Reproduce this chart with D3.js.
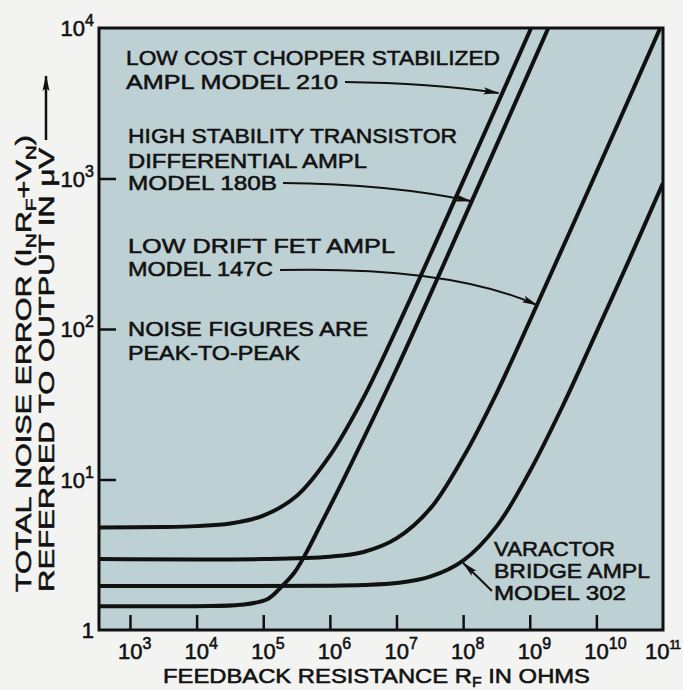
<!DOCTYPE html>
<html><head><meta charset="utf-8">
<script src="https://cdn.jsdelivr.net/npm/d3@7"></script>
<style>
body{margin:0;background:#f3f3f1}
svg{display:block}
text{font-family:"Liberation Sans",Arial,sans-serif;fill:#111;stroke:#111;stroke-width:0.55px}
</style>
</head><body>
<script>
// ---- data (R in ohms, total noise in microvolts p-p) ----
const xTickExps = [3,4,5,6,7,8,9,10,11];
const yTickExps = [0,1,2,3,4];
const model210  = [[343,4.8],[3.2e3,4.83],[1e4,4.9],[3.2e4,5.1],[1e5,5.75],[3.2e5,7.8],[1e6,14.4],[3.2e6,35],[1e7,100],[1e8,960],[1.05e9,1e4],[1.26e9,1.2e4]];
const model180B = [[343,1.44],[1e4,1.44],[4.6e4,1.47],[1.15e5,1.6],[1.9e5,1.95],[2.9e5,2.39],[4.4e5,3.25],[7.1e5,4.91],[1.69e6,10.5],[1e7,54],[1e8,525],[1e9,5250],[1.9e9,1e4],[2.3e9,1.2e4]];
const model147C = [[343,2.96],[1e5,2.96],[1e6,3.07],[3.2e6,3.3],[1e7,4.06],[3.2e7,6.4],[1e8,14],[3.2e8,37.7],[1e9,113],[1e10,1100],[9.1e10,1e4],[1e11,1.1e4]];
const model302  = [[343,1.96],[1e6,1.97],[3.2e6,1.99],[1e7,2.05],[3.2e7,2.26],[1e8,2.89],[3.2e8,4.9],[1e9,11.3],[3.2e9,31.5],[1e10,95],[3.2e10,297],[1e11,933]];
const curves = [model210, model180B, model147C, model302];

// annotation labels and arrow tips (tip in data units)
const notes = [
  {lines:["LOW COST CHOPPER STABILIZED","AMPL MODEL 210"], x:126, base:[65,89], len:[374,212],
   tail:[345,82], tip:[3.4e8,3700], bend:[430,83]},
  {lines:["HIGH STABILITY TRANSISTOR","DIFFERENTIAL AMPL","MODEL 180B"], x:128, base:[143,168,190], len:[329,239,149],
   tail:[283,183], tip:[1.3e8,708], bend:[390,184]},
  {lines:["LOW DRIFT FET AMPL","MODEL 147C"], x:128, base:[253,276], len:[267,145],
   tail:[280,270], tip:[1.29e9,144], bend:[450,266]},
  {lines:["NOISE FIGURES ARE","PEAK-TO-PEAK"], x:128, base:[336,360], len:[240,172]},
  {lines:["VARACTOR","BRIDGE AMPL","MODEL 302"], x:494, base:[556,578,600], len:[121,156,132],
   tail:[492,591], tip:[1.0e8,2.79], bend:[478,577]}
];

const W=683,H=690;
const svg=d3.select("body").append("svg").attr("width",W).attr("height",H);
svg.append("rect").attr("width",W).attr("height",H).attr("fill","#f3f3f1");

const x=d3.scaleLog().domain([Math.pow(10,2.535),1e11]).range([99,663]);
const y=d3.scaleLog().domain([1,1e4]).range([630,28]);

svg.append("rect").attr("x",99).attr("y",28).attr("width",564).attr("height",602).attr("fill","#bdd0d3");

const defs=svg.append("defs");
defs.append("clipPath").attr("id","clip")
  .append("rect").attr("x",99).attr("y",28).attr("width",564).attr("height",602);
defs.append("marker").attr("id","ah").attr("viewBox","0 0 16 8").attr("refX",15).attr("refY",4)
  .attr("markerWidth",16).attr("markerHeight",8).attr("markerUnits","userSpaceOnUse").attr("orient","auto")
  .append("path").attr("d","M0,0.5 L16,4 L0,7.5 L3,4 Z").attr("fill","#111");

// axes (ticks inside)
const xAxis=d3.axisBottom(x).tickValues(xTickExps.slice(0,-1).map(e=>Math.pow(10,e))).tickSize(-15).tickFormat("");
svg.append("g").attr("transform","translate(0,630)").call(xAxis)
  .call(g=>{g.select(".domain").remove();g.selectAll("line").attr("stroke","#111").attr("stroke-width",2.5);});
const yAxis=d3.axisLeft(y).tickValues(yTickExps.slice(1,-1).map(e=>Math.pow(10,e))).tickSize(-17).tickFormat("");
svg.append("g").attr("transform","translate(99,0)").call(yAxis)
  .call(g=>{g.select(".domain").remove();g.selectAll("line").attr("stroke","#111").attr("stroke-width",2.5);});

// curves
const line=d3.line().x(d=>x(d[0])).y(d=>y(d[1])).curve(d3.curveCatmullRom.alpha(0.5));
svg.append("g").attr("clip-path","url(#clip)").selectAll("path").data(curves).join("path")
  .attr("d",line).attr("fill","none").attr("stroke","#111").attr("stroke-width",4).attr("stroke-linejoin","round");

// frame
svg.append("rect").attr("x",99).attr("y",28).attr("width",564).attr("height",602)
  .attr("fill","none").attr("stroke","#111").attr("stroke-width",3);

// annotations
notes.forEach(n=>{
  n.lines.forEach((t,i)=>{
    svg.append("text").attr("x",n.x).attr("y",n.base[i]).attr("font-size",21)
      .attr("textLength",n.len[i]).attr("lengthAdjust","spacingAndGlyphs").text(t);
  });
  if(n.tip){
    const tx=x(n.tip[0]),ty=y(n.tip[1]);
    svg.append("path").attr("d",`M${n.tail[0]},${n.tail[1]} Q${n.bend[0]},${n.bend[1]} ${tx},${ty}`)
      .attr("fill","none").attr("stroke","#111").attr("stroke-width",2).attr("marker-end","url(#ah)");
  }
});

// x tick labels
xTickExps.forEach(e=>{
  const last = e===xTickExps[xTickExps.length-1];
  const t=svg.append("text").attr("x",last?645:x(Math.pow(10,e))-12).attr("y",659).attr("font-size",22);
  t.append("tspan").text("10");
  t.append("tspan").attr("dy",-10).attr("font-size",last?12:16).attr("letter-spacing",last?-1:0).text(e);
});
// y tick labels
yTickExps.forEach(e=>{
  const t=svg.append("text").attr("x",94).attr("y",y(Math.pow(10,e))+8).attr("font-size",22).attr("text-anchor","end");
  if(e===0){t.text("1");}
  else{t.append("tspan").text("10");t.append("tspan").attr("dy",-10).attr("font-size",16).text(e);}
});

// x title
const xt=svg.append("text").attr("x",163).attr("y",683).attr("font-size",21)
  .attr("textLength",427).attr("lengthAdjust","spacingAndGlyphs");
xt.append("tspan").text("FEEDBACK RESISTANCE R");
xt.append("tspan").attr("dy",4).attr("font-size",14).text("F");
xt.append("tspan").attr("dy",-4).text(" IN OHMS");

// y title
const y1=svg.append("text").attr("transform","translate(31,592) rotate(-90)").attr("font-size",22)
  .attr("textLength",457).attr("lengthAdjust","spacingAndGlyphs");
y1.append("tspan").text("TOTAL NOISE ERROR (I");
y1.append("tspan").attr("dy",5).attr("font-size",15).text("N");
y1.append("tspan").attr("dy",-5).text("R");
y1.append("tspan").attr("dy",5).attr("font-size",15).text("F");
y1.append("tspan").attr("dy",-5).text("+V");
y1.append("tspan").attr("dy",5).attr("font-size",15).text("N");
y1.append("tspan").attr("dy",-5).text(")");
svg.append("text").attr("transform","translate(54,592) rotate(-90)").attr("font-size",22)
  .attr("textLength",444).attr("lengthAdjust","spacingAndGlyphs").text("REFERRED TO OUTPUT IN \u03BCV");
svg.append("path").attr("d","M46,140 L46,76").attr("stroke","#111").attr("stroke-width",2.5)
  .attr("marker-end","url(#ah)");
</script>
</body></html>
